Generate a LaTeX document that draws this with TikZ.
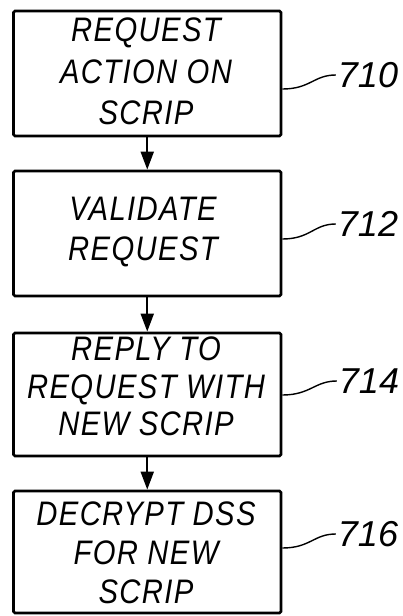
\documentclass[tikz,border=0pt]{standalone}
\usepackage{fontspec}
\setmainfont{Liberation Sans}
\newfontfamily\boxfont{Liberation Sans}[FakeStretch=0.86,LetterSpace=4]
\usetikzlibrary{arrows.meta}

\begin{document}
\begin{tikzpicture}[x=1pt,y=-1pt,
  stepbox/.style={draw,line width=2.8pt,rounded corners=1.5pt,
    minimum width=267.5pt,inner sep=0pt},
  steptext/.style={align=center,inner sep=0pt,
    font=\boxfont\fontsize{34}{40}\selectfont\itshape},
  reflabel/.style={inner sep=0pt,font=\fontsize{36}{36}\selectfont\itshape},
  flow/.style={line width=2pt,-{Triangle[length=18pt,width=13pt]}},
  leader/.style={line width=1.4pt}]

\useasboundingbox (0,0) rectangle (402,616);

% process boxes
\node[stepbox,minimum height=125pt] (b1) at (147.25,73.5) {};
\node[stepbox,minimum height=125pt] (b2) at (147.25,233.5) {};
\node[stepbox,minimum height=123pt] (b3) at (147.25,394.5) {};
\node[stepbox,minimum height=122pt] (b4) at (147.25,552) {};

% box texts
\node[steptext,font=\boxfont\fontsize{34}{41.5}\selectfont\itshape] (t1) at (146,71.5)
  {REQUEST\\ACTION ON\\SCRIP};
\node[steptext] (t2) at (143,232) {VALIDATE\\REQUEST};
\node[steptext,font=\boxfont\fontsize{34}{37.5}\selectfont\itshape] (t3) at (146,386.5)
  {REPLY TO\\REQUEST WITH\\NEW SCRIP};
\node[steptext,font=\boxfont\fontsize{34}{39}\selectfont\itshape] (t4) at (146,553)
  {DECRYPT DSS\\FOR NEW\\SCRIP};

% flow arrows
\draw[flow] (b1) -- (b2);
\draw[flow] (b2) -- (b3);
\draw[flow] (b3) -- (b4);

% reference numerals
\node[reflabel] (l1) at (368,75) {710};
\node[reflabel] (l2) at (368,224) {712};
\node[reflabel] (l3) at (369,381) {714};
\node[reflabel] (l4) at (368,534) {716};

% leader line start points on the box edges
\coordinate (s1) at (b1.east |- 0,89);
\coordinate (s2) at (b2.east |- 0,239);
\coordinate (s3) at (b3.east |- 0,395);
\coordinate (s4) at (b4.east |- 0,548);

\foreach \i in {1,2,3,4}{
  \draw[leader] (s\i) .. controls +(28,0) and +(-22,0) .. ([xshift=-2pt]l\i.west);
}
\end{tikzpicture}
\end{document}
